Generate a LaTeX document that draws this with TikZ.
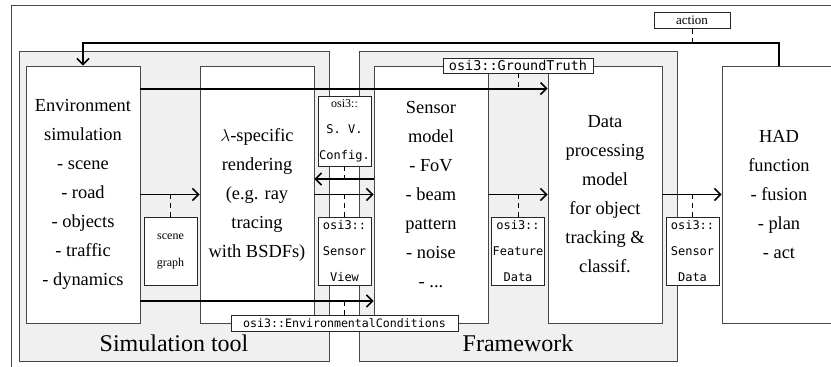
\documentclass[tikz,border=0pt]{standalone}
\usepackage{fontspec}
\setmainfont{Liberation Serif}
\setmonofont{DejaVu Sans Mono}
\usetikzlibrary{arrows.meta}
\begin{document}
\begin{tikzpicture}[x=1pt,y=-1pt,
  bline/.style={draw=black!72, line width=0.9pt},
  mainbox/.style={bline, fill=white, minimum width=114pt, minimum height=257pt, inner sep=0pt, align=center, font=\fontsize{18.4}{29}\selectfont},
  graybox/.style={bline, fill=black!6},
  flow/.style={line width=1.9pt, -{Straight Barb[length=6pt,width=12pt,line width=1.5pt]}},
  lbl/.style={draw=black!85, line width=0.8pt, fill=white, inner sep=0pt, align=center},
  tag/.style={lbl, minimum width=53pt, minimum height=68pt, font=\ttfamily\fontsize{12}{26}\selectfont},
  link/.style={line width=0.8pt, dash pattern=on 5pt off 4pt},
  grouplbl/.style={font=\fontsize{24}{28}\selectfont, inner sep=0pt},
]
\useasboundingbox (0,0) rectangle (831,367);
\clip (0,0) rectangle (831,367);
% outer frame
\draw[bline] (11,5) rectangle (860,390);
% group areas
\draw[graybox] (19,51) rectangle (329,361);
\draw[graybox] (359,51) rectangle (677,361);
\node[grouplbl] (simlbl) at (174,343) {Simulation tool};
\node[grouplbl] (fwlbl) at (518,343) {Framework};
% main blocks
\node[mainbox] (env) at (83,194.5) {Environment\\simulation\\- scene\\- road\\- objects\\- traffic\\- dynamics};
\node[mainbox] (rend) at (257,194.5) {$\lambda$-specific\\rendering\\(e.g. ray\\tracing\\with BSDFs)};
\node[mainbox] (sens) at (431,194.5) {Sensor\\model\\- FoV\\- beam\\pattern\\- noise\\- ...};
\node[mainbox] (dp) at (605,194.5) {Data\\processing\\model\\for object\\tracking \&\\classif.};
\node[mainbox] (had) at (779,194.5) {HAD\\function\\- fusion\\- plan\\- act};
% connector anchor points
\coordinate (gt) at ([yshift=-23pt]env.north east);
\coordinate (bt) at ([yshift=-106.5pt]env.east);
\coordinate (bk) at ([yshift=15.5pt]sens.west);
% connectors
\draw[flow] (gt) -- (gt -| dp.west);
\draw[flow] (env.east) -- (rend.west);
\draw[flow] (bk) -- (bk -| rend.east);
\draw[flow] (rend.east) -- (sens.west);
\draw[flow] (bt) -- (bt -| sens.west);
\draw[flow] (sens.east) -- (dp.west);
\draw[flow] (dp.east) -- (had.west);
\draw[flow] (had.north) -- ++(0,-23) coordinate (fb) -| (env.north);
% labels
\node[lbl, minimum width=76pt, minimum height=16pt, font=\fontsize{13}{15}\selectfont] (act) at (692,20.5) {action};
\node[lbl, minimum width=150pt, minimum height=15pt, font=\ttfamily\fontsize{13.5}{15}\selectfont] (gtl) at (518,65.5) {osi3::GroundTruth};
\node[tag, minimum width=53pt, font=\fontsize{12}{27}\selectfont] (sg) at (170.5,251) {scene\\graph};
\node[tag, minimum height=70pt] (cfg) at (344.5,131) {{\rmfamily osi3::}\\S. V.\\Config.};
\node[tag] (sv) at (344.5,251) {osi3::\\Sensor\\View};
\node[lbl, minimum width=227pt, minimum height=16pt, font=\ttfamily\fontsize{11.6}{14}\selectfont] (ec) at (344.5,323) {osi3::EnvironmentalConditions};
\node[tag] (fd) at (518,251) {osi3::\\Feature\\Data};
\node[tag] (sd) at (692.5,251) {osi3::\\Sensor\\Data};
% label links
\draw[link] (act.south) -- (act.south |- fb);
\draw[link] (gtl.south) -- (gtl.south |- gt);
\draw[link] (sg.north) -- (sg.north |- env.east);
\draw[link] (cfg.south) -- (cfg.south |- bk);
\draw[link] (sv.north) -- (sv.north |- rend.east);
\draw[link] (ec.north) -- (ec.north |- bt);
\draw[link] (fd.north) -- (fd.north |- sens.east);
\draw[link] (sd.north) -- (sd.north |- dp.east);
\end{tikzpicture}
\end{document}
